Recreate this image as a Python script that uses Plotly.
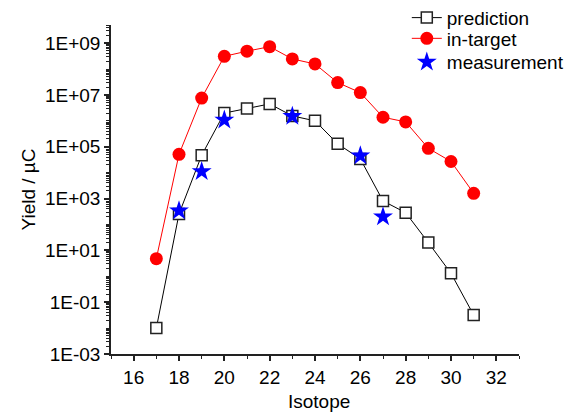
import plotly.graph_objects as go

isotopes = list(range(17, 32))
prediction = [0.01, 256, 4.7e4, 2.0e6, 3.0e6, 4.5e6, 1.55e6, 1.0e6, 1.3e5, 3.4e4, 810, 285, 20, 1.3, 0.032]
in_target = [4.8, 5.1e4, 7.6e6, 3.1e8, 4.9e8, 7.3e8, 2.45e8, 1.57e8, 3.0e7, 1.23e7, 1.38e6, 9.1e5, 8.7e4, 2.7e4, 1.6e3]
meas_isotopes = [18, 19, 20, 23, 26, 27]
measurement = [340, 1.1e4, 1.08e6, 1.5e6, 4.5e4, 200]

y_tickvals = [1e-3, 1e-1, 1e1, 1e3, 1e5, 1e7, 1e9]
y_ticktext = ["1E-03", "1E-01", "1E+01", "1E+03", "1E+05", "1E+07", "1E+09"]
x_tickvals = [16, 18, 20, 22, 24, 26, 28, 30, 32]

FONT = "Liberation Sans, Arial, sans-serif"
FS = 19

fig = go.Figure()
fig.add_trace(go.Scatter(
    x=isotopes, y=prediction, name="prediction", mode="lines+markers",
    line=dict(color="black", width=1),
    marker=dict(symbol="square", size=11, color="white",
                line=dict(color="#222222", width=1.5)),
    legend="legend",
))
fig.add_trace(go.Scatter(
    x=isotopes, y=in_target, name="in-target", mode="lines+markers",
    line=dict(color="red", width=1),
    marker=dict(symbol="circle", size=13, color="red", line=dict(width=0)),
    legend="legend2",
))
fig.add_trace(go.Scatter(
    x=meas_isotopes, y=measurement, name="measurement", mode="markers",
    marker=dict(symbol="star", size=15, color="blue", line=dict(width=0)),
    legend="legend3",
))

leg_common = dict(x=0.725, xanchor="left", yanchor="middle",
                  font=dict(size=FS), bgcolor="rgba(0,0,0,0)")
fig.update_layout(
    width=578, height=408,
    margin=dict(l=103, r=67, t=17, b=62, autoexpand=False),
    paper_bgcolor="white", plot_bgcolor="white",
    font=dict(family=FONT, size=FS, color="black"),
    showlegend=True,
    legend=dict(y=1.022, **leg_common),
    legend2=dict(y=0.959, **leg_common),
    legend3=dict(y=0.887, **leg_common),
    annotations=[dict(text="Isotope", xref="paper", yref="paper",
                      x=0.51, y=-0.145, xanchor="center", yanchor="middle",
                      showarrow=False, font=dict(size=FS))],
)
fig.update_xaxes(
    range=[15, 33], tickmode="array", tickvals=x_tickvals,
    showgrid=False, zeroline=False, automargin=False,
    showline=True, linecolor="#222222", linewidth=1.5,
    ticks="outside", ticklen=5, tickwidth=1.5, tickcolor="#222222",
    minor=dict(ticks="outside", ticklen=3, tickwidth=1.2, tickcolor="#222222", dtick=1, tick0=15, showgrid=False),
)
fig.update_yaxes(
    type="log", range=[-3, 9.7], tickmode="array",
    tickvals=y_tickvals, ticktext=y_ticktext,
    showgrid=False, zeroline=False, automargin=False,
    showline=True, linecolor="#222222", linewidth=1.5,
    ticks="outside", ticklen=5, tickwidth=1.5, tickcolor="#222222",
    minor=dict(ticks="outside", ticklen=3, tickwidth=1, tickcolor="#222222", dtick="D1", showgrid=False),
    title=dict(text="Yield / µC", font=dict(size=FS), standoff=4),
)

fig.write_html("out.html")
